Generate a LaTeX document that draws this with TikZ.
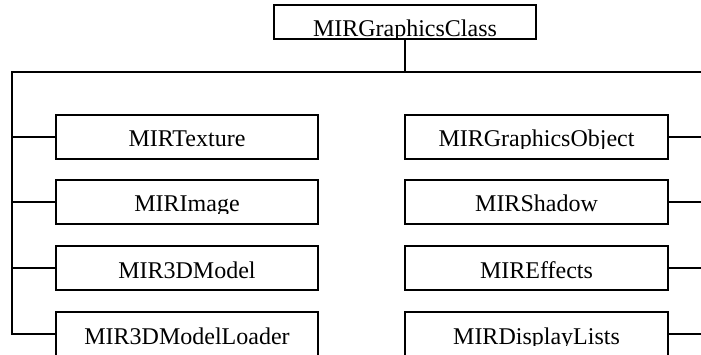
\documentclass[tikz,border=0pt]{standalone}
\usepackage{fontspec}
\setmainfont{Liberation Serif}

\tikzset{
  clstext/.style={anchor=base, inner sep=0pt, font=\fontsize{24}{28}\selectfont},
  cls/.style={draw, line width=1.8pt, minimum width=262pt, minimum height=44pt, inner sep=0pt,
    path picture={
      \clip ([yshift=-33.5pt]path picture bounding box.north west) rectangle (path picture bounding box.north east);
      \node[clstext, name=t#1] at ([yshift=-32pt]path picture bounding box.north) {#1};
    }},
  link/.style={line width=1.8pt}
}

\begin{document}
\begin{tikzpicture}[x=1pt, y=-1pt]
\useasboundingbox (0,0) rectangle (701,355);
\clip (0,0) rectangle (701,355);

\node[cls=MIRGraphicsClass, minimum height=34pt] (gfxclass) at (405,22) {};

% left column
\node[cls=MIRTexture]        (texture) at (187,137) {};
\node[cls=MIRImage]          (image)   at (187,202) {};
\node[cls=MIR3DModel]        (model)   at (187,268) {};
\node[cls=MIR3DModelLoader]  (loader)  at (187,334) {};

% right column
\node[cls=MIRGraphicsObject, minimum width=263pt] (gfxobject) at (536.5,137) {};
\node[cls=MIRShadow, minimum width=263pt]         (shadow)    at (536.5,202) {};
\node[cls=MIREffects, minimum width=263pt]        (effects)   at (536.5,268) {};
\node[cls=MIRDisplayLists, minimum width=263pt]   (displists) at (536.5,334) {};

\coordinate (busL) at (12,72);
\coordinate (busM) at (405,72);
\coordinate (busR) at (705,72);

\draw[link] (gfxclass.south) -- (busM);
\draw[link] (busR) -- (busL) |- (loader.west);

\draw[link] (texture.west) -- (texture.west -| busL);
\draw[link] (image.west)   -- (image.west -| busL);
\draw[link] (model.west)   -- (model.west -| busL);

\draw[link] (gfxobject.east) -- (gfxobject.east -| busR);
\draw[link] (shadow.east)    -- (shadow.east -| busR);
\draw[link] (effects.east)   -- (effects.east -| busR);
\draw[link] (displists.east) -- (displists.east -| busR);
\end{tikzpicture}
\end{document}
